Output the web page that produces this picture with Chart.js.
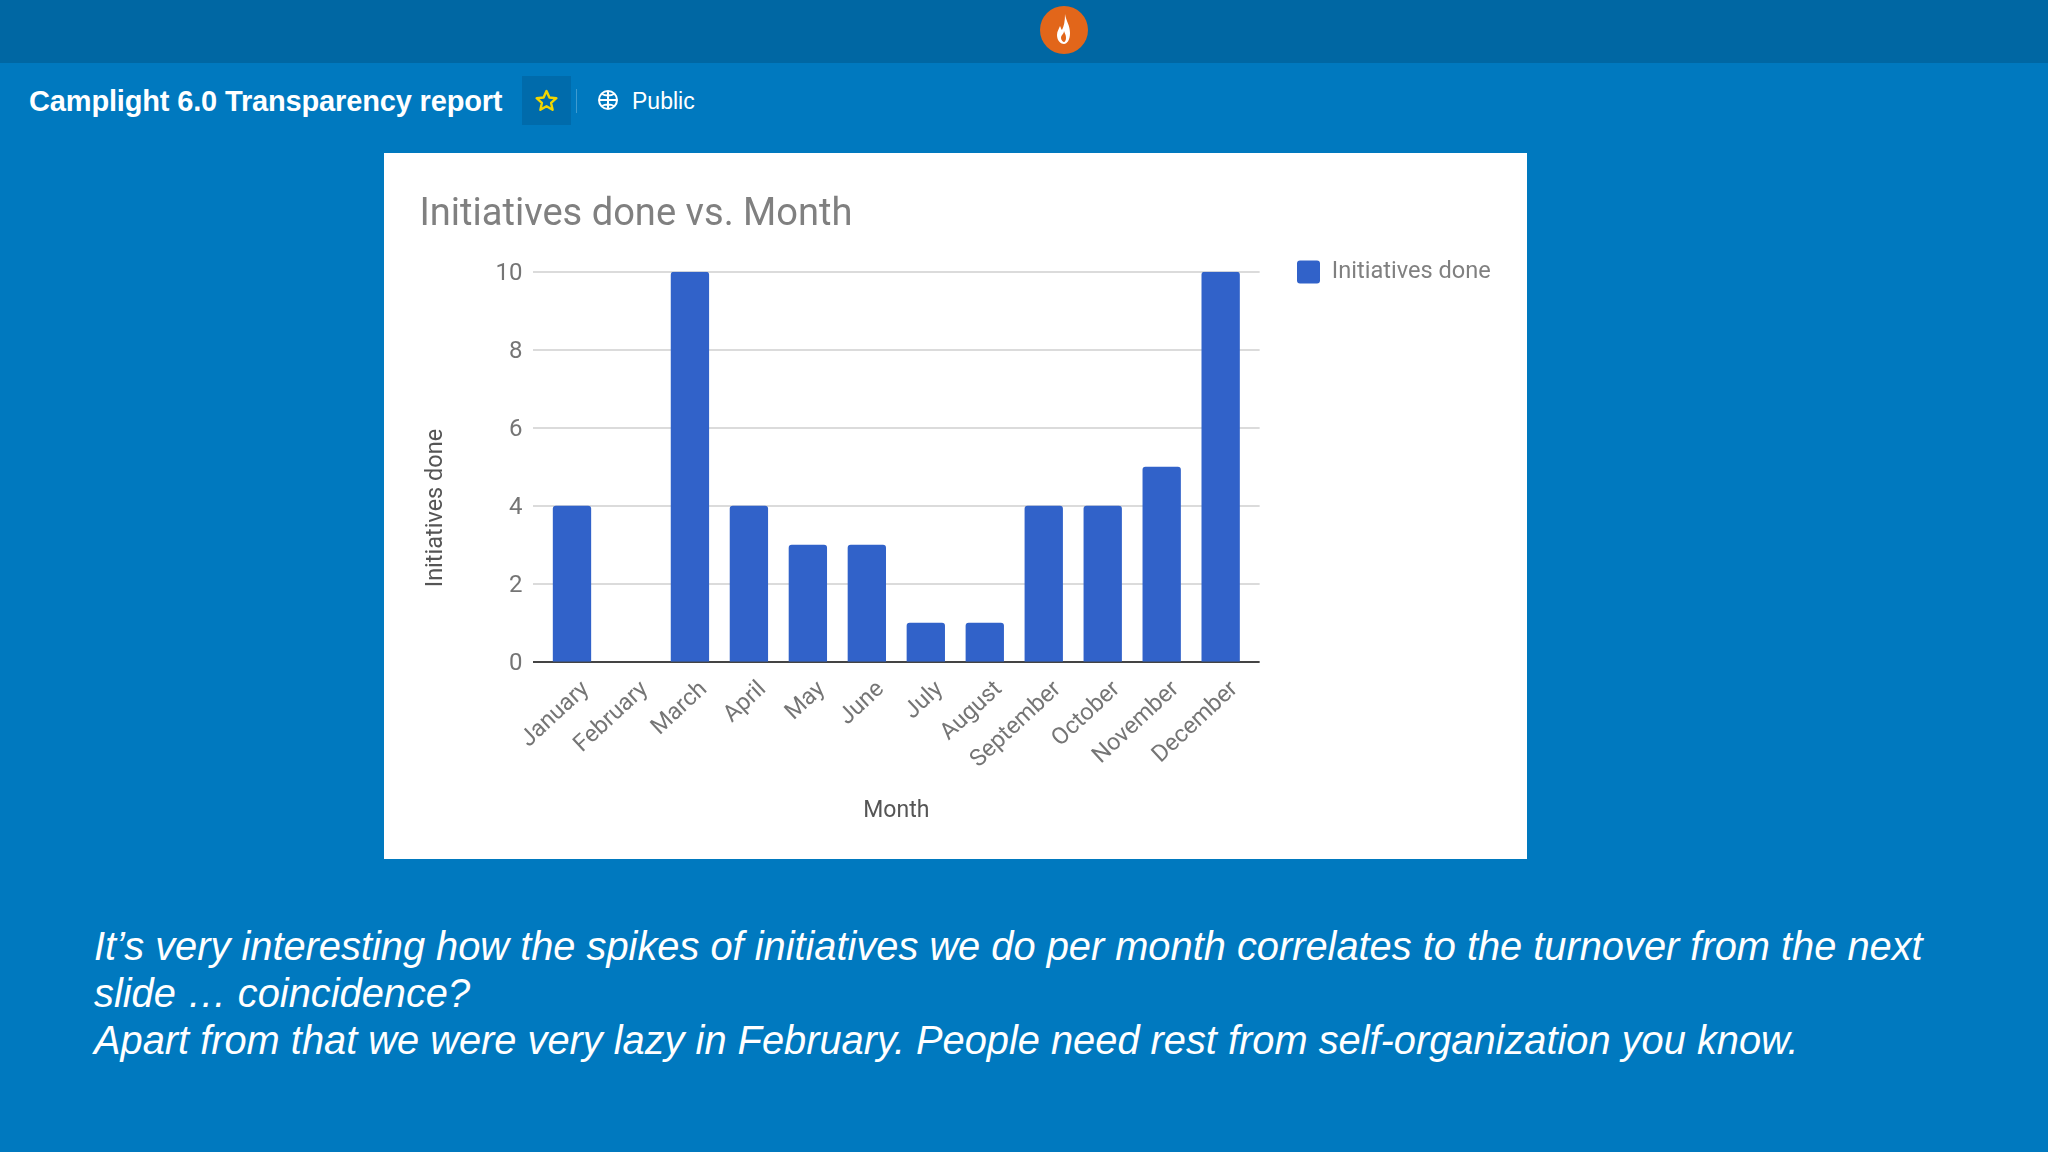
<!DOCTYPE html>
<html>
<head>
<meta charset="utf-8">
<title>Camplight 6.0 Transparency report</title>
<script src="https://cdn.jsdelivr.net/npm/chart.js@4"></script>
<style>
  html, body { margin: 0; padding: 0; }
  body { width: 2048px; height: 1152px; background: #0079bf; overflow: hidden; position: relative; font-family: "Liberation Sans", sans-serif; color: #fff; }
  .top { position: absolute; left: 0; top: 0; width: 2048px; height: 63px; background: #0067a3; }
  .logo { position: absolute; left: 1040px; top: 6px; width: 48px; height: 48px; }
  .board { position: absolute; left: 29px; top: 84px; font-weight: bold; font-size: 29px; line-height: 34px; letter-spacing: -0.16px; white-space: nowrap; }
  .star { position: absolute; left: 522px; top: 76px; width: 49px; height: 49px; background: #006bab; }
  .sep { position: absolute; left: 576px; top: 89px; width: 1px; height: 24px; background: #3f9bd0; }
  .globe { position: absolute; left: 597px; top: 89px; width: 22px; height: 22px; }
  .public { position: absolute; left: 632px; top: 86px; font-size: 23px; line-height: 30px; }
  .panel { position: absolute; left: 384px; top: 153px; width: 1143px; height: 706px; background: #fff; }
  .note { position: absolute; left: 94px; top: 923px; width: 1930px; font-style: italic; font-size: 39.8px; line-height: 47px; }
</style>
</head>
<body>
<div class="top"></div>
<svg class="logo" viewBox="0 0 48 48">
  <circle cx="24" cy="24" r="24" fill="#e2661a"/>
  <path d="M25 8c1 7 5 11 5 19 0 7-3 11-6 11s-7-3-7-9c0-4 2-6 3-9 1 2 1 3 2 4 2-4 3-9 3-16z" fill="#fff"/>
  <path d="M24 25c1 3 2 4 2 7 0 2-1 4-2 4s-3-2-3-4c0-3 3-4 3-7z" fill="#e2661a"/>
</svg>
<div class="board">Camplight 6.0 Transparency report</div>
<div class="star">
  <svg width="49" height="49" viewBox="0 0 49 49"><path d="M24.5 15l2.9 6.5 7 .7-5.3 4.7 1.5 6.9-6.1-3.6-6.1 3.6 1.5-6.9-5.3-4.7 7-.7z" fill="none" stroke="#f2d600" stroke-width="2.4" stroke-linejoin="round"/></svg>
</div>
<div class="sep"></div>
<svg class="globe" viewBox="0 0 22 22" fill="none" stroke="#fff" stroke-width="2">
  <circle cx="11" cy="11" r="9"/><path d="M2 11h18M11 2v18M5 5c3 2 9 2 12 0M5 17c3-2 9-2 12 0"/>
</svg>
<div class="public">Public</div>
<div class="panel"><canvas id="grafico" width="1143" height="706"></canvas></div>
<div class="note">It’s very interesting how the spikes of initiatives we do per month correlates to the turnover from the next<br>slide … coincidence?<br>Apart from that we were very lazy in February. People need rest from self-organization you know.</div>

<script>
const months = ['January', 'February', 'March', 'April', 'May', 'June', 'July', 'August', 'September', 'October', 'November', 'December'];
const initiativesDone = [4, 0, 10, 4, 3, 3, 1, 1, 4, 4, 5, 10];
const yMax = 10;
const yStep = 2;

// gridlines run a bit past the first and last bar slot, as in google charts
const gridPlugin = {
    id: 'longGrid',
    beforeDatasetsDraw(chart) {
        const ctx = chart.ctx, area = chart.chartArea, y = chart.scales.y;
        ctx.save();
        y.ticks.forEach(t => {
            const py = Math.round(y.getPixelForValue(t.value));
            ctx.beginPath();
            ctx.strokeStyle = t.value === 0 ? '#444444' : '#cfcfcf';
            ctx.lineWidth = t.value === 0 ? 2 : 1.5;
            ctx.moveTo(area.left - 9.5, py);
            ctx.lineTo(area.right + 9.5, py);
            ctx.stroke();
        });
        ctx.restore();
    }
};

// the y title sits below the middle of the axis, which the scale option cant do
const yTitlePlugin = {
    id: 'yTitle',
    afterDraw(chart) {
        const ctx = chart.ctx, area = chart.chartArea;
        ctx.save();
        ctx.translate(52.5, area.top + area.height * 0.606);
        ctx.rotate(-Math.PI / 2);
        ctx.textAlign = 'center';
        ctx.textBaseline = 'middle';
        ctx.fillStyle = '#555555';
        ctx.font = '23.5px Roboto';
        ctx.fillText('Initiatives done', 0, 0);
        ctx.restore();
    }
};

// legend sits centred on the top gridline
const legendPlugin = {
    id: 'legendSpot',
    afterLayout(chart) {
        chart.legend.top = chart.chartArea.top - 21.5;
        chart.legend.left = 903;
        chart.legend.right = chart.width;
    }
};

new Chart(document.getElementById('grafico'), {
    type: 'bar',
    data: {
        labels: months,
        datasets: [{
            label: 'Initiatives done',
            data: initiativesDone,
            backgroundColor: '#3162c9',
            borderRadius: { topLeft: 3, topRight: 3 },
            borderSkipped: 'bottom',
            barPercentage: 0.65,
            categoryPercentage: 1
        }]
    },
    options: {
        responsive: false,
        animation: false,
        layout: { padding: { left: 35.4, top: 35, right: 63, bottom: 0 } },
        plugins: {
            title: {
                display: true,
                text: 'Initiatives done vs. Month',
                align: 'start',
                color: '#808080',
                font: { family: 'Roboto', size: 38.1, weight: 'normal', lineHeight: 1.2 },
                padding: { top: 5, bottom: 33 }
            },
            legend: {
                position: 'right',
                align: 'start',
                labels: {
                    boxWidth: 23,
                    boxHeight: 23,
                    padding: 10,
                    useBorderRadius: true,
                    borderRadius: 3,
                    color: '#808080',
                    font: { family: 'Roboto', size: 23.6 }
                }
            },
            tooltip: { enabled: false }
        },
        scales: {
            x: {
                grid: { display: false },
                border: { display: false },
                ticks: {
                    color: '#757575',
                    font: { family: 'Roboto', size: 23.5 },
                    maxRotation: 43,
                    minRotation: 43,
                    autoSkip: false,
                    padding: 6,
                    labelOffset: 14
                },
                title: {
                    display: true,
                    text: 'Month',
                    color: '#555555',
                    font: { family: 'Roboto', size: 23 },
                    padding: { top: 0, bottom: 33.5 }
                },
                afterFit(scale) { scale.height = 197.3; }
            },
            y: {
                min: 0,
                max: yMax,
                grid: { display: false },
                border: { display: false },
                ticks: {
                    stepSize: yStep,
                    color: '#757575',
                    font: { family: 'Roboto', size: 24 },
                    padding: 12,
                    labelOffset: 2
                },
                afterFit(scale) { scale.width = 123.1; }
            }
        }
    },
    plugins: [gridPlugin, yTitlePlugin, legendPlugin]
});
</script>
</body>
</html>
